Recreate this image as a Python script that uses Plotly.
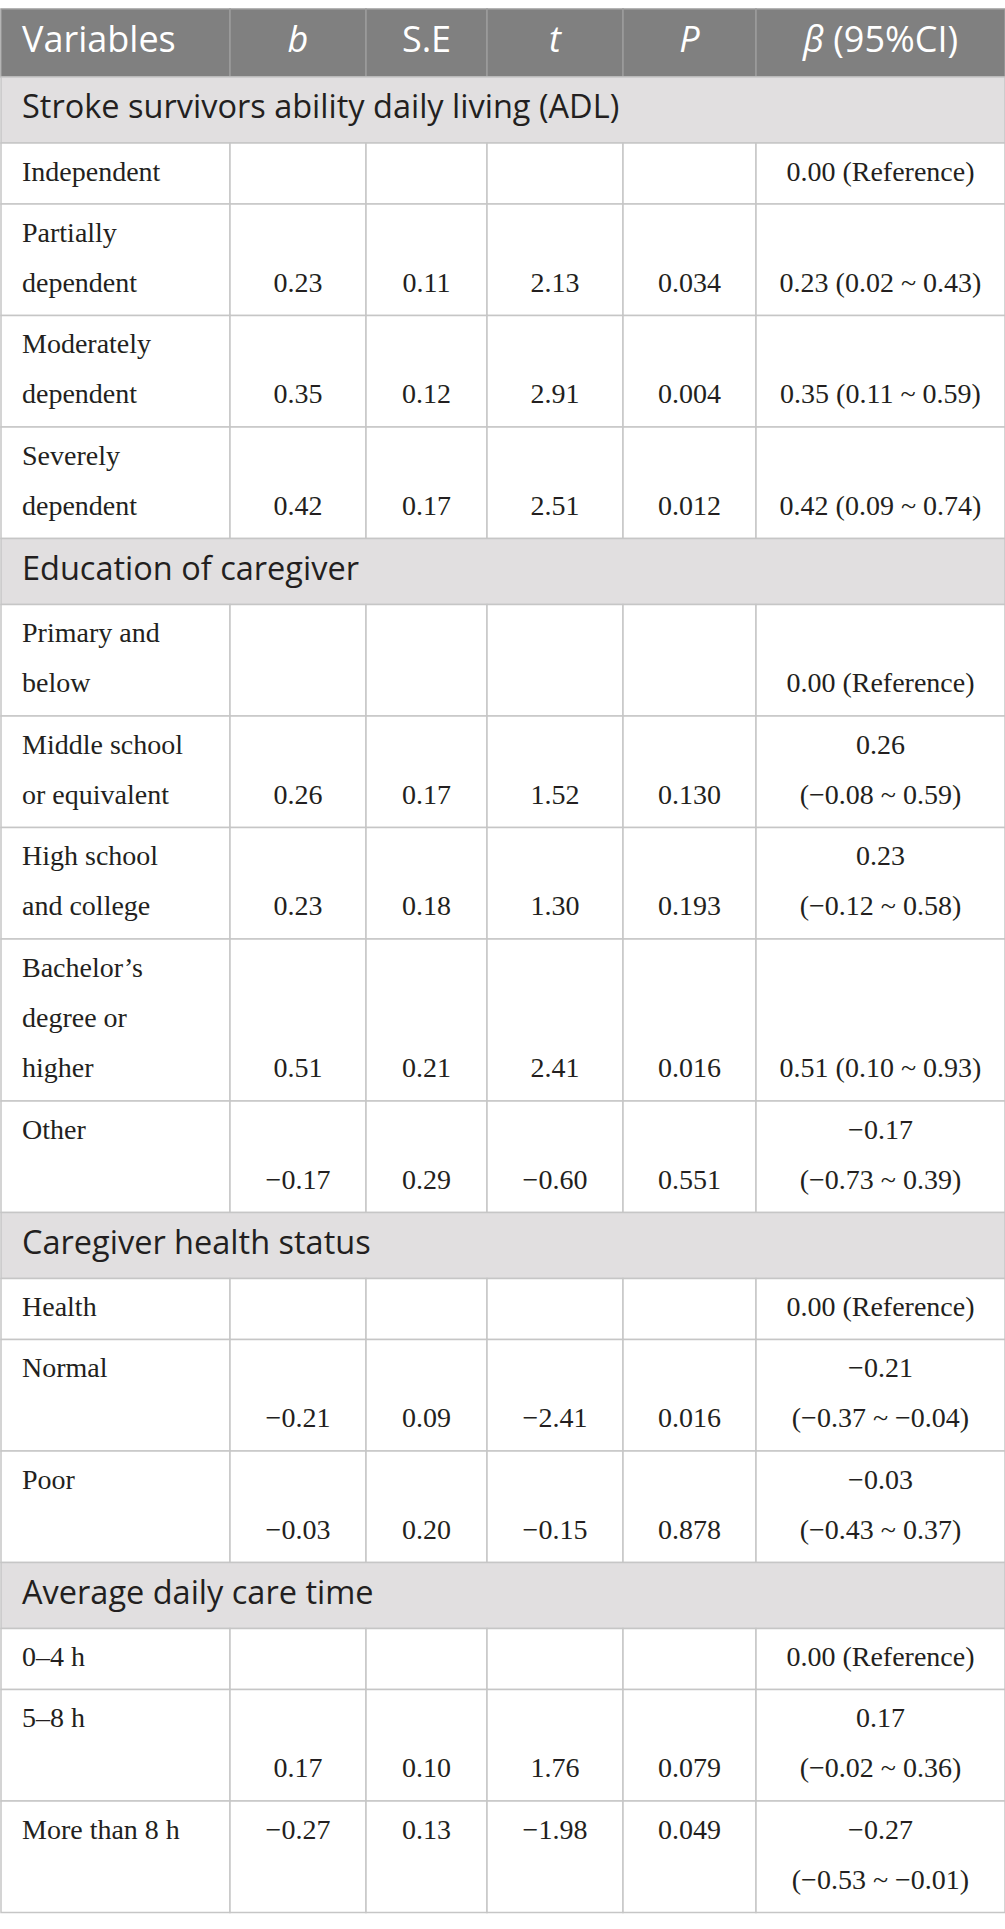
import plotly.graph_objects as go

# ---- table content ----
header = ["Variables", "<i>b</i>", "S.E", "<i>t</i>", "<i>P</i>", "<i>β</i> (95%CI)"]

sections = [
    "Stroke survivors ability daily living (ADL)",
    "Education of caregiver",
    "Caregiver health status",
    "Average daily care time",
]
section_of = [0, 0, 0, 0, 1, 1, 1, 1, 1, 2, 2, 2, 3, 3, 3]

labels = [
    "Independent", "Partially\ndependent", "Moderately\ndependent", "Severely\ndependent",
    "Primary and\nbelow", "Middle school\nor equivalent", "High school\nand college",
    "Bachelor’s\ndegree or\nhigher", "Other",
    "Health", "Normal", "Poor",
    "0–4 h", "5–8 h", "More than 8 h",
]

b_vals = [None, 0.23, 0.35, 0.42, None, 0.26, 0.23, 0.51, -0.17, None, -0.21, -0.03, None, 0.17, -0.27]
se_vals = [None, 0.11, 0.12, 0.17, None, 0.17, 0.18, 0.21, 0.29, None, 0.09, 0.20, None, 0.10, 0.13]
t_vals = [None, 2.13, 2.91, 2.51, None, 1.52, 1.30, 2.41, -0.60, None, -2.41, -0.15, None, 1.76, -1.98]
p_vals = [None, 0.034, 0.004, 0.012, None, 0.130, 0.193, 0.016, 0.551, None, 0.016, 0.878, None, 0.079, 0.049]
ci_low = [None, 0.02, 0.11, 0.09, None, -0.08, -0.12, 0.10, -0.73, None, -0.37, -0.43, None, -0.02, -0.53]
ci_high = [None, 0.43, 0.59, 0.74, None, 0.59, 0.58, 0.93, 0.39, None, -0.04, 0.37, None, 0.36, -0.01]

# line of the row the numbers sit on, and whether the CI is split over two lines
val_line = [0, 1, 1, 1, 1, 1, 1, 2, 1, 0, 1, 1, 0, 1, 0]
ci_wrap = [False, False, False, False, False, True, True, False, True, False, True, True, False, True, True]

# ---- geometry / style ----
W, H = 1005, 1929
col_widths = [229, 136, 121, 136, 133, 249]
TOP = 9
HEADER_H = 68
SECTION_H = 66
LINE_H = 50.5
ROW_PAD = 10.5
TEXT_GAP = 50
TEXT_X = 21

HEADER_FILL = "#808080"
HEADER_LINE = "#9c9c9c"
SECTION_FILL = "#e1dfe0"
GRID = "#c6c6c6"
INK = "#231f20"

edges = [1]
for w in col_widths:
    edges.append(edges[-1] + w)
centers = [(a + b) / 2 for a, b in zip(edges[:-1], edges[1:])]


def num(v, d=2):
    return f"{v:.{d}f}".replace("-", "−")


shapes = []
y = TOP

# header
for c in range(len(col_widths)):
    shapes.append(dict(type="rect", xref="x", yref="y", x0=edges[c], x1=edges[c + 1],
                       y0=y, y1=y + HEADER_H, fillcolor=HEADER_FILL,
                       line=dict(color=HEADER_LINE, width=1.5), layer="below"))
hdr_y = y + HEADER_H / 2
y += HEADER_H

lab_x, lab_y, lab_t = [], [], []
val_x, val_y, val_t = [], [], []
sec_y = []

current = None
for i, lab in enumerate(labels):
    if section_of[i] != current:
        current = section_of[i]
        shapes.append(dict(type="rect", xref="x", yref="y", x0=edges[0], x1=edges[-1],
                           y0=y, y1=y + SECTION_H, fillcolor=SECTION_FILL,
                           line=dict(color=GRID, width=1.5), layer="below"))
        sec_y.append(y + SECTION_H / 2)
        y += SECTION_H

    lab_lines = lab.split("\n")
    n = max(len(lab_lines), val_line[i] + 1, 2 if ci_wrap[i] else 1)
    h = ROW_PAD + LINE_H * n
    mid = y + h / 2

    def line_y(k):
        return mid + (k - (n - 1) / 2) * TEXT_GAP

    for c in range(len(col_widths)):
        shapes.append(dict(type="rect", xref="x", yref="y", x0=edges[c], x1=edges[c + 1],
                           y0=y, y1=y + h, fillcolor="white",
                           line=dict(color=GRID, width=1.5), layer="below"))

    for k, s in enumerate(lab_lines):
        lab_x.append(edges[0] + TEXT_X)
        lab_y.append(line_y(k))
        lab_t.append(s)

    if b_vals[i] is None:
        ci_lines = [f"{num(0)} (Reference)"]
    else:
        cols = [num(b_vals[i]), num(se_vals[i]), num(t_vals[i]), num(p_vals[i], 3)]
        for c, s in enumerate(cols):
            val_x.append(centers[c + 1])
            val_y.append(line_y(val_line[i]))
            val_t.append(s)
        rng = f"({num(ci_low[i])} ~ {num(ci_high[i])})"
        ci_lines = [num(b_vals[i]), rng] if ci_wrap[i] else [f"{num(b_vals[i])} {rng}"]

    start = 0 if ci_wrap[i] else val_line[i]
    for k, s in enumerate(ci_lines):
        val_x.append(centers[5])
        val_y.append(line_y(start + k))
        val_t.append(s)

    y += h

body_font = dict(family="Liberation Serif, Times New Roman, serif", size=28, color=INK)
head_font = dict(family="Open Sans", size=36, color="white")

fig = go.Figure()
fig.add_trace(go.Scatter(x=[edges[0] + TEXT_X], y=[hdr_y], text=[header[0]], mode="text",
                         textposition="middle right", hoverinfo="skip", textfont=head_font))
fig.add_trace(go.Scatter(x=centers[1:], y=[hdr_y] * 5, text=header[1:], mode="text",
                         textposition="middle center", hoverinfo="skip", textfont=head_font))
fig.add_trace(go.Scatter(x=[edges[0] + TEXT_X] * len(sections), y=sec_y, text=sections,
                         mode="text", textposition="middle right", hoverinfo="skip",
                         textfont=dict(family="Open Sans", size=32.5, color=INK)))
fig.add_trace(go.Scatter(x=lab_x, y=lab_y, text=lab_t, mode="text",
                         textposition="middle right", hoverinfo="skip", textfont=body_font))
fig.add_trace(go.Scatter(x=val_x, y=val_y, text=val_t, mode="text",
                         textposition="middle center", hoverinfo="skip", textfont=body_font))

fig.update_layout(
    width=W, height=H,
    margin=dict(l=0, r=0, t=0, b=0),
    paper_bgcolor="white", plot_bgcolor="white",
    showlegend=False,
    shapes=shapes,
    xaxis=dict(range=[0, W], visible=False, fixedrange=True),
    yaxis=dict(range=[H, 0], visible=False, fixedrange=True),
)

fig.write_html("out.html", config={"displayModeBar": False},
               post_script="document.body.style.margin='0';")
